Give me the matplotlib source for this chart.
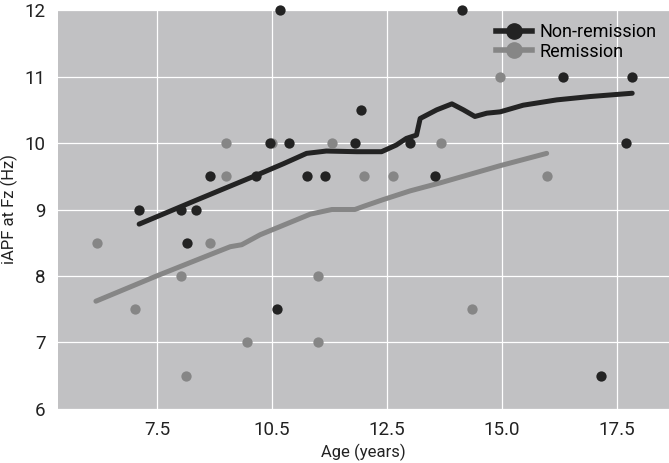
import matplotlib
matplotlib.use("Agg")
import matplotlib.pyplot as plt
from matplotlib.lines import Line2D

plt.rcParams['font.family'] = ['Roboto', 'DejaVu Sans']

# ---- data ----
# Non-remission (black)
nr_age = [7.11, 8.01, 8.35, 8.15, 8.64, 9.64, 9.95, 10.37, 10.75, 10.10, 10.18,
          14.13, 11.94, 11.81, 12.99, 11.14, 13.54, 16.32, 17.83, 17.69, 17.15]
nr_iapf = [9.0, 9.0, 9.0, 8.5, 9.5, 9.5, 10.0, 10.0, 9.5, 7.5, 12.0,
           12.0, 10.5, 10.0, 10.0, 9.5, 9.5, 11.0, 11.0, 10.0, 6.5]

# Remission (grey)
r_age = [10.00, 9.00, 9.00, 6.19, 8.66, 8.01, 7.03, 14.96, 11.30, 13.67,
         11.99, 12.63, 15.97, 14.34, 9.46, 10.99, 8.13, 10.99]
r_iapf = [10.0, 10.0, 9.5, 8.5, 8.5, 8.0, 7.5, 11.0, 10.0, 10.0,
          9.5, 9.5, 9.5, 7.5, 7.0, 7.0, 6.5, 8.0]

# smoothed (loess) curves
nr_fit_x = [7.11, 8.35, 9.64, 10.25, 10.75, 11.18, 11.84, 12.38, 12.70, 12.92,
            13.14, 13.22, 13.58, 13.91, 14.16, 14.41, 14.67, 14.96, 15.46,
            16.19, 16.91, 17.83]
nr_fit_y = [8.78, 9.14, 9.51, 9.69, 9.845, 9.88, 9.87, 9.87, 9.97, 10.07,
            10.12, 10.37, 10.50, 10.59, 10.50, 10.40, 10.45, 10.47, 10.57,
            10.65, 10.70, 10.75]

r_fit_x = [6.17, 7.49, 8.65, 9.09, 9.34, 9.74, 10.83, 11.3, 11.8, 12.0,
           12.42, 13.0, 13.65, 14.96, 15.97]
r_fit_y = [7.62, 8.00, 8.32, 8.44, 8.47, 8.62, 8.93, 9.0, 9.0, 9.05,
           9.15, 9.28, 9.40, 9.66, 9.845]

xticks = [7.5, 10.0, 12.5, 15.0, 17.5]
xtick_labels = ["7.5", "10.5", "12.5", "15.0", "17.5"]
yticks = [6, 7, 8, 9, 10, 11, 12]

black = '#232323'
grey = '#868686'

fig = plt.figure(figsize=(6.69, 4.63), dpi=100)
ax = fig.add_axes([0.087, 0.117, 0.913, 0.861])
ax.set_facecolor('#c1c1c3')

ax.plot(r_fit_x, r_fit_y, color=grey, lw=3.6, solid_capstyle='round', zorder=3)
ax.plot(nr_fit_x, nr_fit_y, color=black, lw=3.6, solid_capstyle='round', zorder=4)
ax.scatter(r_age, r_iapf, s=55, color=grey, zorder=5, clip_on=False, linewidths=0)
ax.scatter(nr_age, nr_iapf, s=55, color=black, zorder=6, clip_on=False, linewidths=0)

ax.set_xlim(5.35, 18.63)
ax.set_ylim(6, 12)
ax.set_xticks(xticks, xtick_labels)
ax.set_yticks(yticks)
ax.grid(True, color='white', lw=0.9)
ax.set_axisbelow(True)
for s in ax.spines.values():
    s.set_visible(False)
ax.tick_params(length=0, labelsize=13.5, colors='#222222', pad=9)

ax.set_xlabel("Age (years)", fontsize=12, color='#222222', labelpad=3)
ax.set_ylabel("iAPF at Fz (Hz)", fontsize=12, color='#222222', labelpad=5)

# legend
handles = [Line2D([], [], color=black, lw=4, marker='o', ms=11),
           Line2D([], [], color=grey, lw=4, marker='o', ms=11)]
ax.legend(handles, ["Non-remission", "Remission"], loc='upper right',
          frameon=False, fontsize=13, handlelength=2.0, handletextpad=0.4,
          labelspacing=0.1, borderaxespad=0.3, bbox_to_anchor=(1.0, 1.0))

fig.savefig("out.png", dpi=100)
